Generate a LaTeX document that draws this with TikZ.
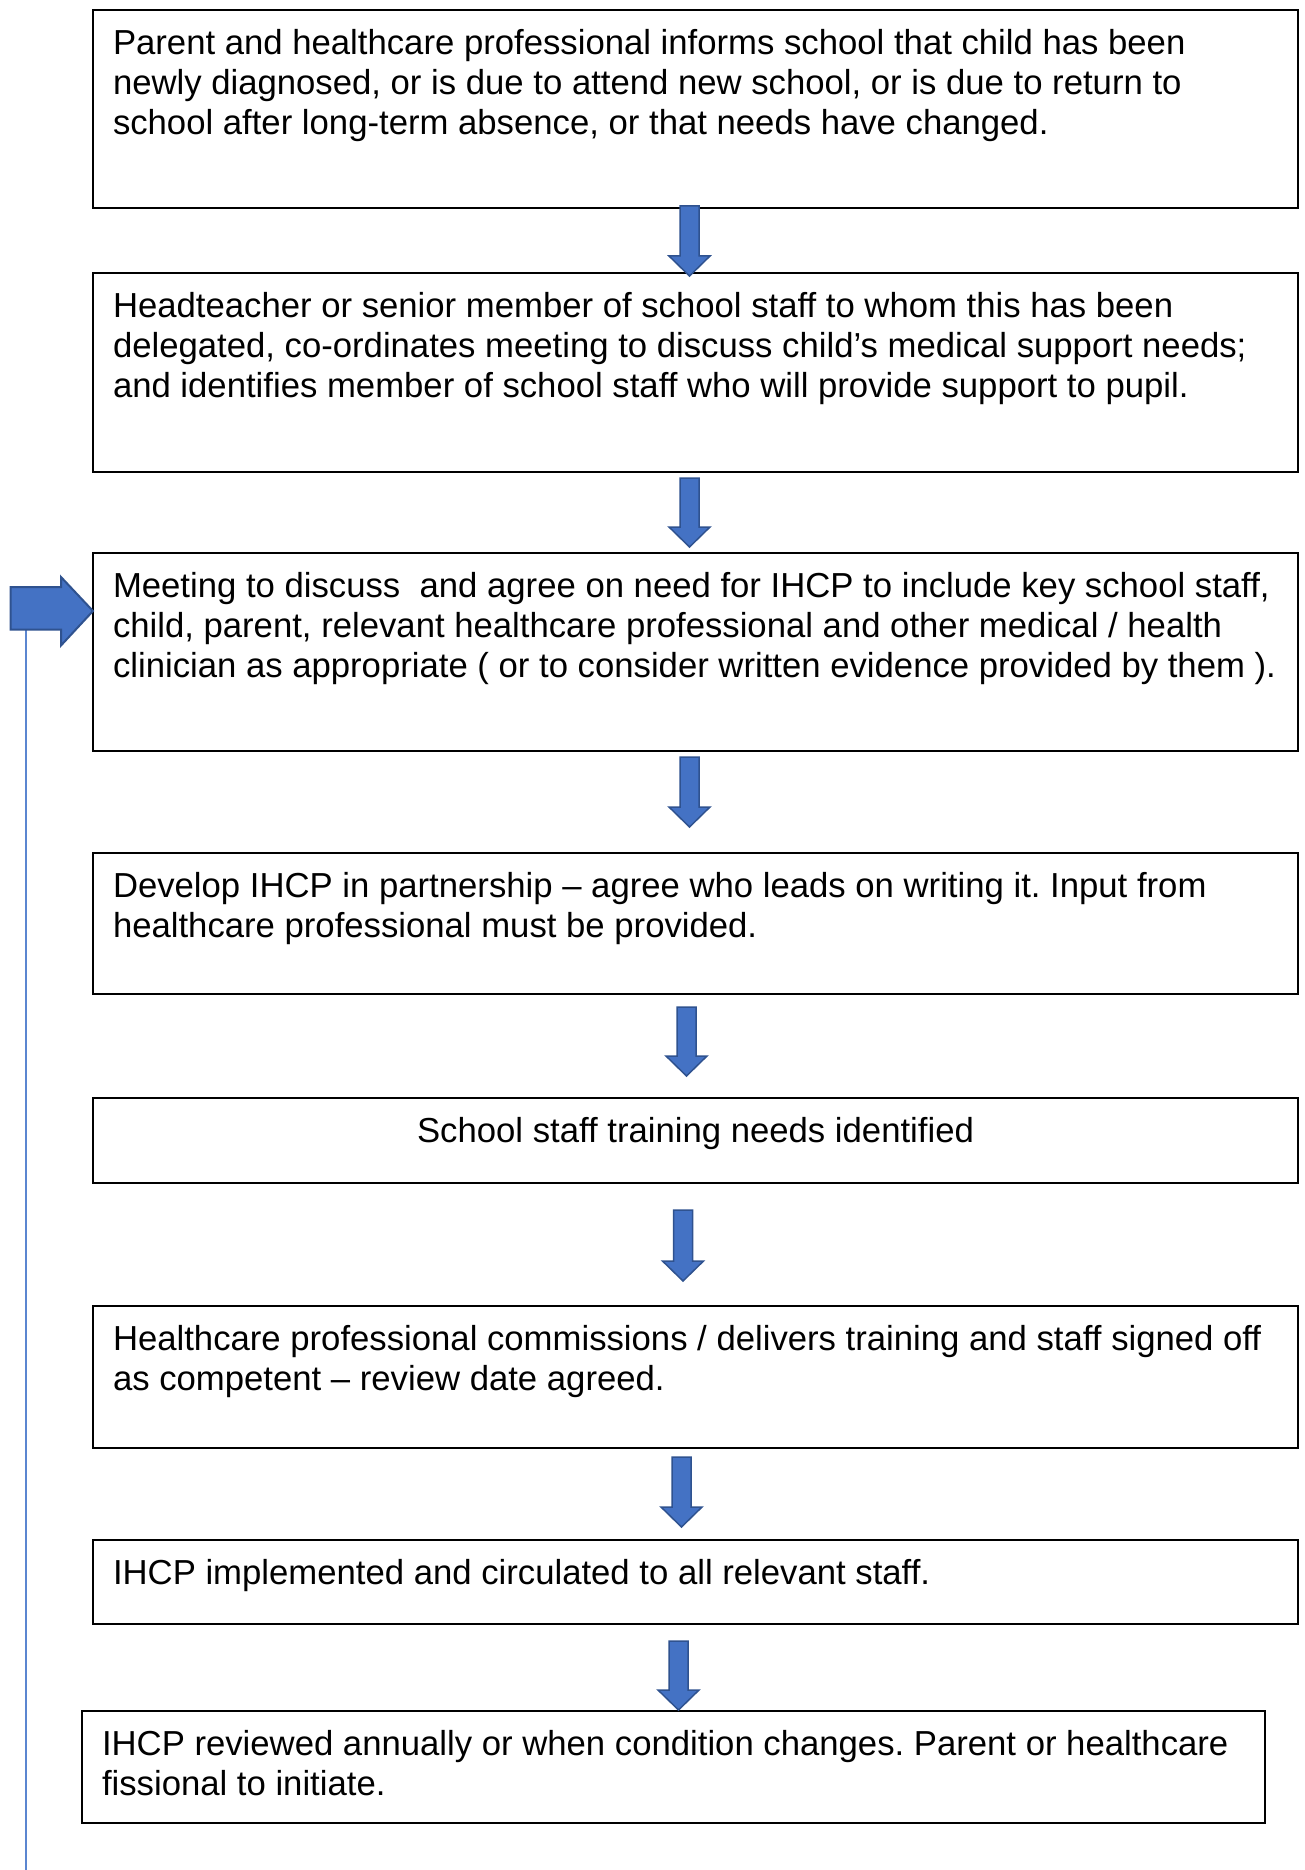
\documentclass[tikz,border=0pt]{standalone}
\usepackage{fontspec}
\setmainfont{Liberation Sans}
\frenchspacing
\definecolor{arrfill}{HTML}{4472C4}
\definecolor{arrline}{HTML}{2F528F}
\definecolor{fbline}{HTML}{5B86D0}
\newcommand\downblock[4]{% name, x, ytop, ytip
  \filldraw[blockarr] (#2-9.5,#3) -- (#2+9.5,#3) -- (#2+9.5,#4-20) -- (#2+20.5,#4-20)
    -- (#2,#4) coordinate (#1) -- (#2-20.5,#4-20) -- (#2-9.5,#4-20) -- cycle;}
\begin{document}
\begin{tikzpicture}[x=1pt,y=-1pt,
  box/.style={draw=black,line width=2pt,rectangle,inner sep=0pt,outer sep=0pt,anchor=north west},
  txt/.style={anchor=north west,inner sep=0pt,outer sep=0pt,align=left,
    font=\fontsize{34.7}{40}\selectfont\frenchspacing},
  blockarr/.style={fill=arrfill,draw=arrline,line width=1.5pt,line join=miter}]
\useasboundingbox[fill=white] (0,0) rectangle (1304,1870);

\node[box,minimum width=1205pt,minimum height=197.5pt] (b1) at (93,10.5) {};
\node[box,minimum width=1205pt,minimum height=199pt] (b2) at (93,273) {};
\node[box,minimum width=1205pt,minimum height=198pt] (b3) at (93,553) {};
\node[box,minimum width=1205pt,minimum height=141pt] (b4) at (93,853) {};
\node[box,minimum width=1205pt,minimum height=85pt] (b5) at (93,1098) {};
\node[box,minimum width=1205pt,minimum height=142pt] (b6) at (93,1306) {};
\node[box,minimum width=1205pt,minimum height=84pt] (b7) at (93,1540) {};
\node[box,minimum width=1183pt,minimum height=112pt] (b8) at (82,1711) {};

\node[txt] (t1) at ([xshift=20pt,yshift=-19pt]b1.north west)
  {Parent and healthcare professional informs school that child has been\\
   newly diagnosed, or is due to attend new school, or is due to return to\\
   school after long-term absence, or that needs have changed.};
\node[txt] (t2) at ([xshift=20pt,yshift=-19pt]b2.north west)
  {Headteacher or senior member of school staff to whom this has been\\
   delegated, co-ordinates meeting to discuss child’s medical support needs;\\
   and identifies member of school staff who will provide support to pupil.};
\node[txt] (t3) at ([xshift=20pt,yshift=-19pt]b3.north west)
  {Meeting to discuss\ \ and agree on need for IHCP to include key school staff,\\
   child, parent, relevant healthcare professional and other medical / health\\
   clinician as appropriate ( or to consider written evidence provided by them ).};
\node[txt] (t4) at ([xshift=20pt,yshift=-19pt]b4.north west)
  {Develop IHCP in partnership – agree who leads on writing it. Input from\\
   healthcare professional must be provided.};
\node[txt,anchor=north] (t5) at ([yshift=-19pt]b5.north)
  {School staff training needs identified};
\node[txt] (t6) at ([xshift=20pt,yshift=-19pt]b6.north west)
  {Healthcare professional commissions / delivers training and staff signed off\\
   as competent – review date agreed.};
\node[txt] (t7) at ([xshift=20pt,yshift=-19pt]b7.north west)
  {IHCP implemented and circulated to all relevant staff.};
\node[txt] (t8) at ([xshift=20pt,yshift=-19pt]b8.north west)
  {IHCP reviewed annually or when condition changes. Parent or healthcare\\
   fissional to initiate.};

\downblock{a1}{689.5}{206}{276}
\downblock{a2}{689.5}{478}{547}
\downblock{a3}{689.5}{757}{827}
\downblock{a4}{686.5}{1007}{1076}
\downblock{a5}{683}{1210}{1281}
\downblock{a6}{681.5}{1457}{1527}
\downblock{a7}{678.5}{1641}{1710}

% feedback line and left block arrow
\coordinate (fbtop) at (26,630);
\coordinate (fbbot) at (26,1870);
\draw[fbline,line width=2pt] (fbtop) -- (fbbot);
\filldraw[blockarr,line width=2pt] (10.5,587) -- (61,587) -- (61,577) -- (b3.west |- 0,611)
  -- (61,645.5) -- (61,629.5) -- (10.5,629.5) -- cycle;
\end{tikzpicture}
\end{document}
